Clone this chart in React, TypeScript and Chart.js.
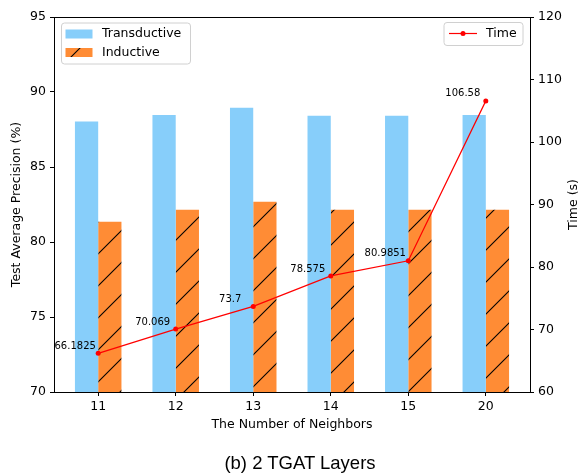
import React, { useEffect, useRef } from "react";
import { Chart, registerables } from "chart.js";

Chart.register(...registerables);

const categories = ["11", "12", "13", "14", "15", "20"];
const transductive = [88.04, 88.46, 88.95, 88.42, 88.42, 88.47];
const inductive = [81.35, 82.15, 82.68, 82.15, 82.15, 82.15];
const timeSeconds = [66.1825, 70.069, 73.7, 78.575, 80.9851, 106.58];
const leftTicks = [70, 75, 80, 85, 90, 95];
const rightTicks = [60, 70, 80, 90, 100, 110, 120];

const FONT = "'DejaVu Sans', sans-serif";
const BLUE = "#87CEFA";
const ORANGE = "#FF8C35";
const RED = "#FF0000";

function makeHatch(): CanvasPattern | string {
  const size = 32;
  const c = document.createElement("canvas");
  c.width = size;
  c.height = size;
  const g = c.getContext("2d");
  if (!g) return ORANGE;
  g.fillStyle = ORANGE;
  g.fillRect(0, 0, size, size);
  g.strokeStyle = "#000";
  g.lineWidth = 1.1;
  for (const k of [-size, 0, size]) {
    g.beginPath();
    g.moveTo(k - 2, size + 2);
    g.lineTo(k + size + 2, -2);
    g.stroke();
  }
  const p = g.createPattern(c, "repeat");
  return p || ORANGE;
}

export default function App() {
  const ref = useRef<HTMLCanvasElement | null>(null);

  useEffect(() => {
    const canvas = ref.current;
    if (!canvas) return;
    const hatch = makeHatch();

    const decorations = {
      id: "decorations",
      afterDatasetsDraw(chart: any) {
        const ctx = chart.ctx;
        const meta = chart.getDatasetMeta(2);
        ctx.save();
        ctx.font = `10px ${FONT}`;
        ctx.fillStyle = "#000";
        ctx.textAlign = "center";
        ctx.textBaseline = "middle";
        meta.data.forEach((pt: any, i: number) => {
          ctx.fillText(String(timeSeconds[i]), pt.x - 23, pt.y - 7);
        });
        ctx.restore();
      },
      afterDraw(chart: any) {
        const ctx = chart.ctx;
        const a = chart.chartArea;
        ctx.save();
        // top frame line
        ctx.strokeStyle = "#000";
        ctx.lineWidth = 1;
        ctx.beginPath();
        ctx.moveTo(a.left, Math.round(a.top) + 0.5);
        ctx.lineTo(a.right, Math.round(a.top) + 0.5);
        ctx.stroke();

        const roundBox = (x: number, y: number, w: number, h: number) => {
          const r = 3;
          ctx.beginPath();
          ctx.moveTo(x + r, y);
          ctx.lineTo(x + w - r, y);
          ctx.quadraticCurveTo(x + w, y, x + w, y + r);
          ctx.lineTo(x + w, y + h - r);
          ctx.quadraticCurveTo(x + w, y + h, x + w - r, y + h);
          ctx.lineTo(x + r, y + h);
          ctx.quadraticCurveTo(x, y + h, x, y + h - r);
          ctx.lineTo(x, y + r);
          ctx.quadraticCurveTo(x, y, x + r, y);
          ctx.closePath();
          ctx.fillStyle = "rgba(255,255,255,0.8)";
          ctx.fill();
          ctx.strokeStyle = "#d0d0d0";
          ctx.lineWidth = 1;
          ctx.stroke();
        };

        ctx.font = `12.5px ${FONT}`;
        ctx.textBaseline = "middle";
        ctx.textAlign = "left";

        // left legend
        const lx = a.left + 7.5;
        const ly = a.top + 6;
        roundBox(lx, ly, 129, 41);
        ctx.fillStyle = BLUE;
        ctx.fillRect(lx + 4, ly + 6.5, 27, 9);
        ctx.fillStyle = hatch as any;
        ctx.fillRect(lx + 4, ly + 25, 27, 9);
        ctx.fillStyle = "#000";
        ctx.fillText(chart.data.datasets[0].label, lx + 40.5, ly + 11);
        ctx.fillText(chart.data.datasets[1].label, lx + 40.5, ly + 30);

        // right legend
        const rx = a.right - 86;
        const ry = a.top + 5.5;
        roundBox(rx, ry, 79, 23);
        ctx.strokeStyle = RED;
        ctx.lineWidth = 1.2;
        ctx.beginPath();
        ctx.moveTo(rx + 5, ry + 11);
        ctx.lineTo(rx + 33, ry + 11);
        ctx.stroke();
        ctx.fillStyle = RED;
        ctx.beginPath();
        ctx.arc(rx + 19, ry + 11, 2.5, 0, Math.PI * 2);
        ctx.fill();
        ctx.fillStyle = "#000";
        ctx.fillText(chart.data.datasets[2].label, rx + 42, ry + 11.5);

        // right axis title (reads bottom to top)
        ctx.save();
        ctx.translate(574, (a.top + a.bottom) / 2);
        ctx.rotate(-Math.PI / 2);
        ctx.textAlign = "center";
        ctx.fillText("Time (s)", 0, 0);
        ctx.restore();
        ctx.restore();
      },
    };

    const chart = new Chart(canvas, {
      type: "bar",
      data: {
        datasets: [
          {
            type: "bar",
            label: "Transductive",
            data: transductive.map((v, i) => ({ x: i, y: v })),
            backgroundColor: BLUE,
            borderWidth: 0,
            categoryPercentage: 0.6,
            barPercentage: 1,
            yAxisID: "y",
            order: 2,
          },
          {
            type: "bar",
            label: "Inductive",
            data: inductive.map((v, i) => ({ x: i, y: v })),
            backgroundColor: hatch as any,
            borderWidth: 0,
            categoryPercentage: 0.6,
            barPercentage: 1,
            yAxisID: "y",
            order: 2,
          },
          {
            type: "line",
            label: "Time",
            data: timeSeconds.map((v, i) => ({ x: i, y: v })),
            borderColor: RED,
            backgroundColor: RED,
            borderWidth: 1.2,
            pointRadius: 2.5,
            pointBackgroundColor: RED,
            pointBorderWidth: 0,
            yAxisID: "y1",
            order: 1,
          },
        ] as any,
      },
      options: {
        responsive: false,
        animation: false,
        layout: { padding: { top: 17, left: 0, right: 0, bottom: 0 } },
        plugins: {
          legend: { display: false },
          tooltip: { enabled: false },
          title: { display: false },
        },
        scales: {
          x: {
            type: "linear",
            offset: false,
            min: -0.57,
            max: 5.57,
            afterBuildTicks: (axis: any) => {
              axis.ticks = categories.map((_, i) => ({ value: i }));
            },
            afterFit: (axis: any) => {
              axis.height = 83;
            },
            ticks: {
              autoSkip: false,
              maxRotation: 0,
              color: "#000",
              padding: 3,
              font: { family: FONT, size: 12.5 },
              callback: (v: any) => categories[v] ?? "",
            },
            grid: {
              offset: false,
              drawOnChartArea: false,
              drawTicks: true,
              tickLength: 4,
              color: "#000",
            },
            border: { display: true, color: "#000", width: 1 },
            title: {
              display: true,
              text: "The Number of Neighbors",
              color: "#000",
              font: { family: FONT, size: 12.5 },
              padding: { top: 0, bottom: 42.5 },
            },
          },
          y: {
            type: "linear",
            position: "left",
            min: 70,
            max: 95,
            afterBuildTicks: (axis: any) => {
              axis.ticks = leftTicks.map((v) => ({ value: v }));
            },
            afterFit: (axis: any) => {
              axis.width = 54;
            },
            ticks: {
              color: "#000",
              padding: 4,
              font: { family: FONT, size: 12.5 },
            },
            grid: {
              drawOnChartArea: false,
              drawTicks: true,
              tickLength: 4,
              color: "#000",
            },
            border: { display: true, color: "#000", width: 1 },
            title: {
              display: true,
              text: "Test Average Precision (%)",
              color: "#000",
              font: { family: FONT, size: 12.5 },
              padding: { top: 9.5, bottom: 0 },
            },
          },
          y1: {
            type: "linear",
            position: "right",
            min: 60,
            max: 120,
            afterBuildTicks: (axis: any) => {
              axis.ticks = rightTicks.map((v) => ({ value: v }));
            },
            afterFit: (axis: any) => {
              axis.width = 49;
            },
            ticks: {
              color: "#000",
              padding: 4,
              font: { family: FONT, size: 12.5 },
            },
            grid: {
              drawOnChartArea: false,
              drawTicks: true,
              tickLength: 4,
              color: "#000",
            },
            border: { display: true, color: "#000", width: 1 },
            title: { display: false },
          },
        },
      } as any,
      plugins: [decorations],
    });

    return () => chart.destroy();
  }, []);

  return (
    <div style={{ position: "absolute", left: 0, top: 0, width: 579, height: 475, background: "#fff" }}>
      <canvas ref={ref} width={579} height={475} style={{ width: 579, height: 475, display: "block" }} />
      <div
        style={{
          position: "absolute",
          left: 150,
          width: 300,
          top: 453,
          textAlign: "center",
          fontFamily: "'Liberation Sans', Arial, sans-serif",
          fontSize: 18.5,
          lineHeight: "20px",
          color: "#000",
        }}
      >
        (b) 2 TGAT Layers
      </div>
    </div>
  );
}
